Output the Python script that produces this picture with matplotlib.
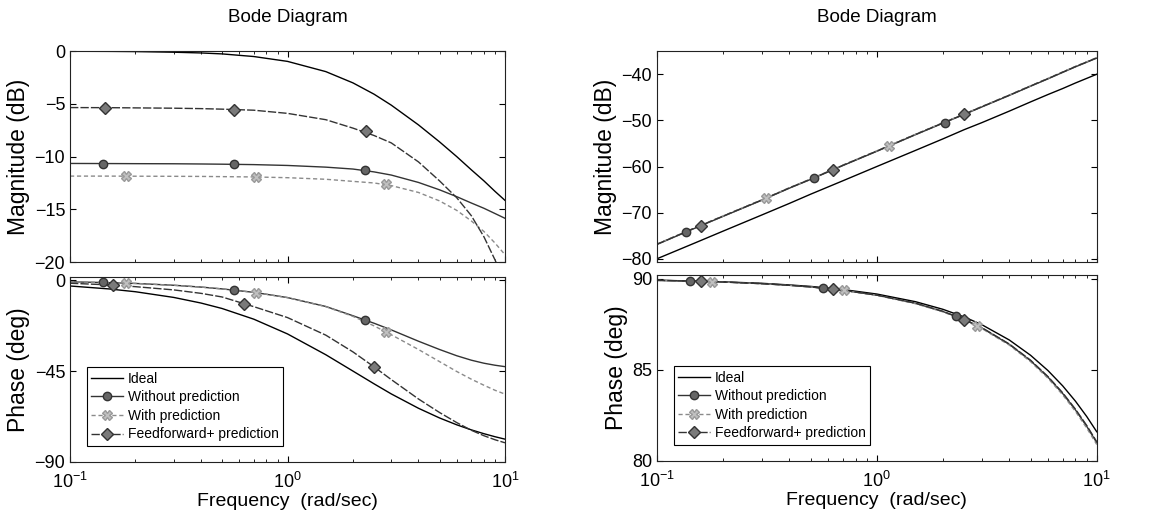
import matplotlib
matplotlib.use("Agg")
import matplotlib.pyplot as plt
from matplotlib.lines import Line2D

plt.rcParams['font.family'] = ['Liberation Sans', 'DejaVu Sans']
plt.rcParams['mathtext.fontset'] = 'custom'
plt.rcParams['mathtext.rm'] = 'Liberation Sans'
plt.rcParams['mathtext.it'] = 'Liberation Sans'

w = [0.1, 0.15, 0.2, 0.3, 0.4, 0.5, 0.7, 1, 1.5, 2, 2.5, 3, 4, 5, 6, 7, 8, 9, 10]

# ---- left plot ----
mag_ideal_L = [-0.01, -0.02, -0.04, -0.10, -0.17, -0.26, -0.51, -0.97, -1.94, -3.01, -4.08,
               -5.12, -6.99, -8.60, -10.0, -11.25, -12.3, -13.3, -14.15]
mag_without_L = [-10.65, -10.66, -10.67, -10.68, -10.70, -10.72, -10.76, -10.84, -11.0, -11.18,
                 -11.45, -11.75, -12.45, -13.15, -13.8, -14.4, -14.9, -15.4, -15.85]
mag_with_L = [-11.85, -11.85, -11.86, -11.87, -11.88, -11.9, -11.93, -12.0, -12.15, -12.35,
              -12.5, -12.75, -13.4, -14.2, -15.1, -16.1, -17.1, -18.2, -19.3]
mag_ff_L = [-5.35, -5.36, -5.38, -5.41, -5.45, -5.5, -5.6, -5.9, -6.5, -7.3, -8.0,
            -8.7, -10.5, -12.3, -13.9, -15.6, -17.6, -19.8, -22.0]

ph_ideal_L = [-2.86, -4.29, -5.71, -8.53, -11.3, -14.0, -19.3, -26.6, -36.9, -45.0, -51.3,
              -56.3, -63.4, -68.2, -71.6, -74.1, -76.0, -77.5, -78.7]
ph_without_L = [-0.8, -1.2, -1.6, -2.5, -3.4, -4.3, -6.0, -8.6, -13.0, -17.6, -21.3,
                -24.6, -30.2, -34.3, -37.4, -39.6, -41.1, -42.1, -42.8]
ph_with_L = [-0.8, -1.2, -1.6, -2.5, -3.4, -4.3, -6.0, -8.6, -13.1, -17.9, -22.6,
             -27.0, -34.3, -40.3, -45.2, -49.0, -52.0, -54.5, -56.4]
ph_ff_L = [-1.5, -2.3, -3.2, -4.8, -6.5, -8.3, -13.1, -18.5, -27.2, -35.5, -42.9,
           -49.2, -58.8, -65.5, -70.5, -74.3, -77.0, -79.0, -80.5]

# marker positions, left plot
mk_w_without_L = [0.142, 0.57, 2.27]
mk_mag_without_L = [-10.66, -10.74, -11.25]
mk_ph_without_L = [-1.1, -5.0, -19.5]
mk_w_with_L = [0.18, 0.72, 2.85]
mk_mag_with_L = [-11.86, -11.93, -12.6]
mk_ph_with_L = [-1.4, -6.1, -25.6]
mk_w_ff_mag_L = [0.145, 0.57, 2.29]
mk_mag_ff_L = [-5.36, -5.55, -7.6]
mk_w_ff_ph_L = [0.158, 0.63, 2.5]
mk_ph_ff_L = [-2.5, -11.9, -42.9]

# ---- right plot ----
mag_ideal_R = [-80.0, -76.5, -74.0, -70.5, -68.0, -66.0, -63.1, -60.0, -56.5, -54.0, -52.0,
               -50.5, -48.0, -46.0, -44.4, -43.1, -41.9, -40.9, -40.0]
mag_without_R = [-76.9, -73.3, -70.8, -67.3, -64.7, -62.8, -59.8, -56.7, -53.1, -50.6, -48.7,
                 -47.1, -44.6, -42.6, -41.0, -39.6, -38.4, -37.4, -36.5]
mag_with_R = [-76.8, -73.2, -70.7, -67.2, -64.6, -62.7, -59.7, -56.6, -53.0, -50.5, -48.6,
              -47.0, -44.5, -42.5, -40.9, -39.5, -38.3, -37.3, -36.4]
mag_ff_R = [-76.85, -73.25, -70.75, -67.25, -64.65, -62.75, -59.75, -56.65, -53.05, -50.55, -48.65,
            -47.05, -44.55, -42.55, -40.95, -39.55, -38.35, -37.35, -36.45]

ph_ideal_R = [89.92, 89.87, 89.83, 89.75, 89.66, 89.58, 89.41, 89.16, 88.74, 88.32, 87.9,
              87.48, 86.64, 85.8, 84.96, 84.12, 83.28, 82.44, 81.6]
ph_without_R = [89.91, 89.87, 89.82, 89.73, 89.64, 89.55, 89.37, 89.1, 88.65, 88.2, 87.75,
                87.3, 86.4, 85.5, 84.6, 83.7, 82.8, 81.9, 81.0]
ph_with_R = [89.91, 89.86, 89.82, 89.73, 89.64, 89.55, 89.36, 89.09, 88.63, 88.18, 87.72,
             87.27, 86.36, 85.45, 84.54, 83.63, 82.72, 81.81, 80.9]
ph_ff_R = [89.91, 89.87, 89.82, 89.73, 89.64, 89.55, 89.37, 89.1, 88.66, 88.21, 87.76,
           87.32, 86.42, 85.53, 84.63, 83.74, 82.84, 81.95, 81.05]

mk_w_without_mag_R = [0.136, 0.52, 2.05]
mk_mag_without_R = [-74.2, -62.5, -50.6]
mk_w_with_mag_R = [0.315, 1.14]
mk_mag_with_R = [-66.8, -55.5]
mk_w_ff_mag_R = [0.159, 0.63, 2.5]
mk_mag_ff_R = [-72.8, -60.7, -48.7]
mk_w_without_ph_R = [0.142, 0.568, 2.28]
mk_ph_without_R = [89.87, 89.49, 87.95]
mk_w_with_ph_R = [0.179, 0.71, 2.84]
mk_ph_with_R = [89.84, 89.36, 87.42]
mk_w_ff_ph_R = [0.159, 0.63, 2.5]
mk_ph_ff_R = [89.86, 89.43, 87.76]

labels = ["Ideal", "Without prediction", "With prediction", "Feedforward+ prediction"]

# styles
st_ideal = dict(color="black", lw=1.0, ls="-")
st_without = dict(color="#333333", lw=1.0, ls="-")
st_with = dict(color="#8a8a8a", lw=1.0, ls=(0, (3, 2)))
st_ff = dict(color="#333333", lw=1.0, ls=(0, (6, 1.5)))
mk_without = dict(marker="o", ms=6, mfc="#666666", mec="#333333", ls="none")
mk_with = dict(marker="X", ms=7, mfc="#c0c0c0", mec="#999999", ls="none")
mk_ff = dict(marker="D", ms=6, mfc="#7a7a7a", mec="#333333", ls="none")

fig = plt.figure(figsize=(11.73, 5.22), dpi=100)

ax_mL = fig.add_axes([0.0597, 0.498, 0.3708, 0.404])
ax_pL = fig.add_axes([0.0597, 0.115, 0.3708, 0.354])
ax_mR = fig.add_axes([0.560, 0.498, 0.375, 0.404])
ax_pR = fig.add_axes([0.560, 0.117, 0.375, 0.356])


def style(ax):
    ax.set_xscale("log")
    ax.set_xlim(0.1, 10)
    ax.tick_params(which="both", direction="in", top=True, right=True, labelsize=13)
    ax.tick_params(which="major", length=4)
    ax.tick_params(which="minor", length=2)
    ax.tick_params(axis="x", pad=7)
    for s in ax.spines.values():
        s.set_linewidth(0.8)
        s.set_color("#222222")


def legend(ax):
    handles = [Line2D([], [], **st_ideal),
               Line2D([], [], marker="o", ms=6, mfc="#666666", mec="#333333", **st_without),
               Line2D([], [], marker="X", ms=7, mfc="#c0c0c0", mec="#999999", **st_with),
               Line2D([], [], marker="D", ms=6, mfc="#7a7a7a", mec="#333333", **st_ff)]
    leg = ax.legend(handles, labels, loc="lower left", bbox_to_anchor=(0.038, 0.085),
                    fontsize=10, fancybox=False, framealpha=1, edgecolor="black",
                    handlelength=2.3, handletextpad=0.3, borderpad=0.35, labelspacing=0.33,
                    borderaxespad=0)
    leg.get_frame().set_linewidth(0.8)


# left magnitude
ax_mL.plot(w, mag_ideal_L, **st_ideal)
ax_mL.plot(w, mag_without_L, **st_without)
ax_mL.plot(w, mag_with_L, **st_with)
ax_mL.plot(w, mag_ff_L, **st_ff)
ax_mL.plot(mk_w_without_L, mk_mag_without_L, **mk_without)
ax_mL.plot(mk_w_with_L, mk_mag_with_L, **mk_with)
ax_mL.plot(mk_w_ff_mag_L, mk_mag_ff_L, **mk_ff)
style(ax_mL)
ax_mL.set_ylim(-20, 0)
ax_mL.set_yticks([0, -5, -10, -15, -20])
ax_mL.tick_params(axis="x", which="both", labelbottom=False)
ax_mL.set_ylabel("Magnitude (dB)", fontsize=16.5, labelpad=3)
ax_mL.set_title("Bode Diagram", fontsize=13.5, pad=21)

# left phase
ax_pL.plot(w, ph_ideal_L, **st_ideal)
ax_pL.plot(w, ph_without_L, **st_without)
ax_pL.plot(w, ph_with_L, **st_with)
ax_pL.plot(w, ph_ff_L, **st_ff)
ax_pL.plot(mk_w_without_L, mk_ph_without_L, **mk_without)
ax_pL.plot(mk_w_with_L, mk_ph_with_L, **mk_with)
ax_pL.plot(mk_w_ff_ph_L, mk_ph_ff_L, **mk_ff)
style(ax_pL)
ax_pL.set_ylim(-90, 1.5)
ax_pL.set_yticks([0, -45, -90])
ax_pL.set_ylabel("Phase (deg)", fontsize=16.5, labelpad=3)
ax_pL.set_xlabel("Frequency  (rad/sec)", fontsize=14, labelpad=1)
legend(ax_pL)

# right magnitude
ax_mR.plot(w, mag_ideal_R, **st_ideal)
ax_mR.plot(w, mag_without_R, **st_without)
ax_mR.plot(w, mag_with_R, **st_with)
ax_mR.plot(w, mag_ff_R, **st_ff)
ax_mR.plot(mk_w_without_mag_R, mk_mag_without_R, **mk_without)
ax_mR.plot(mk_w_with_mag_R, mk_mag_with_R, **mk_with)
ax_mR.plot(mk_w_ff_mag_R, mk_mag_ff_R, **mk_ff)
style(ax_mR)
ax_mR.set_ylim(-80.7, -35)
ax_mR.set_yticks([-40, -50, -60, -70, -80])
ax_mR.tick_params(axis="x", which="both", labelbottom=False)
ax_mR.set_ylabel("Magnitude (dB)", fontsize=16.5, labelpad=3)
ax_mR.set_title("Bode Diagram", fontsize=13.5, pad=21)

# right phase
ax_pR.plot(w, ph_ideal_R, **st_ideal)
ax_pR.plot(w, ph_without_R, **st_without)
ax_pR.plot(w, ph_with_R, **st_with)
ax_pR.plot(w, ph_ff_R, **st_ff)
ax_pR.plot(mk_w_without_ph_R, mk_ph_without_R, **mk_without)
ax_pR.plot(mk_w_with_ph_R, mk_ph_with_R, **mk_with)
ax_pR.plot(mk_w_ff_ph_R, mk_ph_ff_R, **mk_ff)
style(ax_pR)
ax_pR.set_ylim(80, 90.2)
ax_pR.set_yticks([80, 85, 90])
ax_pR.set_ylabel("Phase (deg)", fontsize=16.5, labelpad=3)
ax_pR.set_xlabel("Frequency  (rad/sec)", fontsize=14, labelpad=1)
legend(ax_pR)

fig.savefig("out.png", dpi=100)
